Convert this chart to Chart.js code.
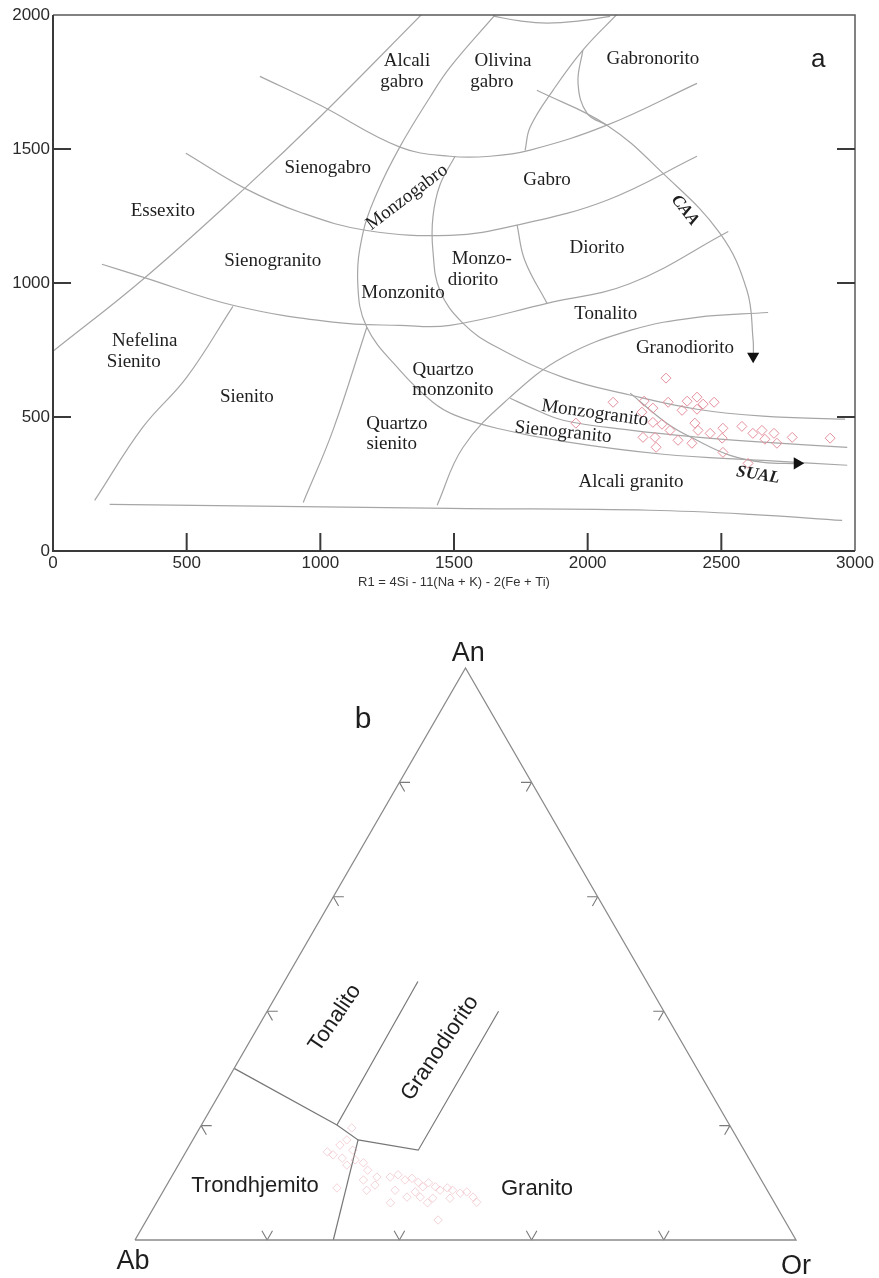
<!DOCTYPE html>
<html><head><meta charset="utf-8">
<script src="https://cdn.jsdelivr.net/npm/chart.js@4.4.1/dist/chart.umd.min.js"></script>
<style>html,body{margin:0;padding:0;background:#fff;width:879px;height:1278px;overflow:hidden}canvas{display:block;position:absolute;left:0}</style>
</head><body>
<canvas id="ca" width="879" height="600" style="top:0;width:879px;height:600px"></canvas>
<canvas id="cb" width="879" height="678" style="top:600px;width:879px;height:678px"></canvas>
<script>
// ---------- Panel a : R1-R2 data ----------
const xTickValues = [0, 500, 1000, 1500, 2000, 2500, 3000];
const yTickValues = [0, 500, 1000, 1500, 2000];
const xAxisTitle = 'R1 = 4Si - 11(Na + K) - 2(Fe + Ti)';

const sampleR1 = [2293,2095,2211,2244,2301,2372,2409,2432,2473,2353,2409,2203,2244,2278,2308,2207,2252,2256,2338,2390,2401,2413,2458,2506,2503,2506,2577,2618,2652,2663,2697,2708,2765,2907,1956,2600];
const sampleR2 = [645,555,559,533,555,559,574,548,555,525,529,518,480,473,450,424,424,387,413,402,477,450,439,458,421,368,465,439,450,417,439,402,424,421,477,327];

// field boundaries [R1, R2]
const bndDiagonal = [[0,745],[337,1014],[718,1354],[1006,1627],[1382,2005]];
const bndArcA = [[774,1771],[998,1664],[1298,1507],[1485,1473],[1635,1473],[1785,1496],[2072,1589],[2409,1745]];
const bndArcB = [[497,1484],[718,1353],[924,1264],[1174,1196],[1485,1178],[1736,1216],[2072,1309],[2409,1473]];
const bndArcC = [[183,1070],[336,1022],[673,917],[1047,854],[1297,842],[1485,842],[1848,924],[2159,998],[2526,1192]];
const bndGranodiorite = [[1437,171],[1534,387],[1710,574],[1908,723],[2159,823],[2409,872],[2675,890]];
const bndBase = [[212,174],[1485,159],[2233,152],[2607,137],[2952,114]];
const bndMonzonite = [[1653,2000],[1485,1805],[1410,1693],[1297,1507],[1211,1334],[1159,1185],[1140,999],[1174,835],[1297,675],[1421,555],[1503,507],[1660,458],[1908,409],[2282,361],[2657,338],[2971,320]];
const bndMonzodiorite = [[1504,1473],[1447,1365],[1421,1245],[1421,1122],[1447,973],[1533,850],[1661,760],[1908,648],[2158,582],[2409,529],[2656,503],[2963,492]];
const bndMonzogranite = [[1710,570],[1785,536],[1908,488],[2159,451],[2409,425],[2657,406],[2971,387]];
const bndDiorite = [[1736,1216],[1765,1084],[1848,924]];
const bndOlivineGabbro = [[2112,2005],[1982,1869],[1871,1720],[1785,1582],[1766,1495]];
const bndGabbronorite = [[1982,1869],[1964,1745],[1998,1633],[2072,1589]];
const bndTopArc = [[1646,1996],[1747,1978],[1848,1970],[1970,1978],[2084,1995]];
const bndNephSyenite = [[156,189],[336,462],[500,648],[673,913]];
const bndQtzSyenite = [[936,181],[1047,450],[1174,835]];
const trendCAA = [[1810,1719],[2072,1589],[2282,1409],[2495,1185],[2596,972],[2619,786],[2620,735]];
const trendSUAL = [[2159,589],[2297,476],[2409,413],[2533,357],[2657,331],[2780,326]];
const arrowHeads = [{x:2619,y:727,rot:180},{x:2784,y:327,rot:90}];

const boundaries = [bndDiagonal,bndArcA,bndArcB,bndArcC,bndGranodiorite,bndBase,bndMonzonite,bndMonzodiorite,bndMonzogranite,bndDiorite,bndOlivineGabbro,bndGabbronorite,bndTopArc,bndNephSyenite,bndQtzSyenite,trendCAA,trendSUAL];

const SERIF = '19px "Liberation Serif", "DejaVu Serif", serif';
const SERIF_BI = 'italic bold 17px "Liberation Serif", serif';
const labelsA = [
  {t:'Alcali',x:1324,y:1827},{t:'gabro',x:1305,y:1749},
  {t:'Olivina',x:1683,y:1827},{t:'gabro',x:1642,y:1749},
  {t:'Gabronorito',x:2244,y:1835},
  {t:'Sienogabro',x:1028,y:1429},
  {t:'Monzogabro',x:1324,y:1320,rot:-37},
  {t:'Gabro',x:1848,y:1383},
  {t:'CAA',x:2364,y:1271,rot:52,font:SERIF_BI},
  {t:'Essexito',x:411,y:1268},
  {t:'Sienogranito',x:822,y:1081},
  {t:'Diorito',x:2035,y:1129},
  {t:'Monzo-',x:1604,y:1088},{t:'diorito',x:1571,y:1010},
  {t:'Monzonito',x:1309,y:961},
  {t:'Tonalito',x:2068,y:883},
  {t:'Nefelina',x:343,y:783},{t:'Sienito',x:302,y:705},
  {t:'Granodiorito',x:2364,y:757},
  {t:'Quartzo',x:1459,y:675},{t:'monzonito',x:1496,y:600},
  {t:'Sienito',x:725,y:573},
  {t:'Quartzo',x:1286,y:473},{t:'sienito',x:1267,y:398},
  {t:'Monzogranito',x:2027,y:514,rot:8},
  {t:'Sienogranito',x:1908,y:443,rot:6},
  {t:'SUAL',x:2637,y:283,rot:9,font:SERIF_BI},
  {t:'Alcali granito',x:2162,y:256},
  {t:'a',x:2862,y:1831,font:'26px "Liberation Sans", Arial, sans-serif'}
];

// ---------- Panel b : An-Ab-Or data (percent) ----------
const sampleAn = [19.6,17.5,15.4,14.9,14.3,13.1,15.7,13.5,12.2,10.5,8.7,9.6,11.0,11.0,11.4,10.5,10.8,10.1,9.3,10.0,9.3,8.7,9.1,8.7,8.2,8.4,7.5,6.6,6.5,7.5,7.5,6.5,7.3,3.5,9.1,14.0,8.7,8.4,7.3,16.6];
const sampleOr = [23.0,23.3,21.4,22.5,24.2,25.5,25.1,27.8,29.1,29.3,30.7,31.5,31.1,33.1,34.1,35.6,36.5,37.8,38.9,39.4,40.8,41.8,42.7,43.7,45.1,46.0,47.4,48.4,35.4,37.4,39.4,41.0,41.4,44.1,26.0,26.3,35.0,38.2,44.0,22.7];
const sampleAb = sampleAn.map((a,i)=>+(100-a-sampleOr[i]).toFixed(1));

// field boundaries [An, Or] in percent
const fieldTrondhjemite = [[30,0],[20.1,20.5],[17.5,25],[15.7,35],[40,35]];
const fieldTonaliteGd = [[20.1,20.5],[45.2,20.2]];
const fieldGranite = [[17.5,25],[0,30]];
const sideTicks = [20,40,60,80];
const SANS = '"Liberation Sans", Arial, sans-serif';
const labelsB = [
  {t:'b',x:0.345,y:0.787,font:'30px '+SANS},
  {t:'An',x:0.504,y:0.888,font:'27px '+SANS},
  {t:'Ab',x:-0.003,y:-0.032,font:'27px '+SANS},
  {t:'Or',x:1.0,y:-0.040,font:'27px '+SANS},
  {t:'Tonalito',x:0.3026,y:0.3359,rot:-56,font:'22px '+SANS},
  {t:'Granodiorito',x:0.4614,y:0.2905,rot:-56,font:'22px '+SANS},
  {t:'Trondhjemito',x:0.1815,y:0.0817,font:'22px '+SANS},
  {t:'Granito',x:0.6082,y:0.0772,font:'22px '+SANS}
];

// ---------- helpers ----------
const H = Math.sqrt(3)/2;
function tern(an, or){ return {x:(or + an/2)/100, y: an/100*H}; }
function drawLabels(chart, labels, defFont){
  const {ctx} = chart; const sx = chart.scales.x, sy = chart.scales.y;
  labels.forEach(l=>{
    ctx.save();
    ctx.translate(sx.getPixelForValue(l.x), sy.getPixelForValue(l.y));
    ctx.rotate((l.rot||0)*Math.PI/180);
    ctx.font = l.font || defFont; ctx.fillStyle = '#1e1e1e';
    ctx.textAlign='center'; ctx.textBaseline='middle';
    ctx.fillText(l.t,0,0);
    ctx.restore();
  });
}

// ---------- Chart a ----------
const dsA = [];
dsA.push({data: sampleR1.map((v,i)=>({x:v,y:sampleR2[i]})), pointStyle:'rectRot', pointRadius:5,
  borderColor:'#e48f9c', backgroundColor:'rgba(0,0,0,0)', pointBorderWidth:1, showLine:false});
dsA.push({data: arrowHeads.map(a=>({x:a.x,y:a.y})), pointStyle:'triangle', pointRadius:7,
  pointRotation: arrowHeads.map(a=>a.rot), backgroundColor:'#111', borderColor:'#111', pointBorderWidth:0, showLine:false, clip:false});
boundaries.forEach(b=>dsA.push({data:b.map(p=>({x:p[0],y:p[1]})), showLine:true, pointRadius:0,
  borderColor:'#a6a6a6', borderWidth:1.2, tension:0.4, fill:false}));

const frameA = {
  id:'frameA',
  afterDraw(chart){
    const {ctx, chartArea:{left,right,top,bottom}} = chart;
    const sx = chart.scales.x, sy = chart.scales.y;
    ctx.save();
    ctx.strokeStyle='#5a5a5a'; ctx.lineWidth=1.5;
    ctx.beginPath(); ctx.moveTo(left,top); ctx.lineTo(right,top); ctx.lineTo(right,bottom); ctx.stroke();
    ctx.strokeStyle='#3a3a3a'; ctx.lineWidth=2;
    ctx.beginPath(); ctx.moveTo(left,top); ctx.lineTo(left,bottom); ctx.lineTo(right,bottom); ctx.stroke();
    ctx.lineWidth=2;
    xTickValues.slice(1,-1).forEach(v=>{const p=sx.getPixelForValue(v); ctx.beginPath(); ctx.moveTo(p,bottom); ctx.lineTo(p,bottom-18); ctx.stroke();});
    yTickValues.slice(1,-1).forEach(v=>{const p=sy.getPixelForValue(v); ctx.beginPath(); ctx.moveTo(left,p); ctx.lineTo(left+18,p); ctx.moveTo(right,p); ctx.lineTo(right-18,p); ctx.stroke();});
    ctx.font='13px "Liberation Sans", Arial, sans-serif'; ctx.fillStyle='#333'; ctx.textAlign='center'; ctx.textBaseline='middle';
    ctx.fillText(xAxisTitle,(left+right)/2,bottom+31);
    ctx.restore();
    drawLabels(chart, labelsA, SERIF);
  }
};

const tickFont = {family:'"Liberation Sans", Arial, sans-serif',size:17};
new Chart(document.getElementById('ca'), {
  type:'scatter',
  data:{datasets:dsA},
  options:{
    responsive:false, animation:false, events:[], devicePixelRatio:1,
    layout:{padding:{left:0,right:24,top:15,bottom:0}},
    plugins:{legend:{display:false},tooltip:{enabled:false}},
    scales:{
      x:{type:'linear',min:0,max:3000,afterBuildTicks(s){s.ticks=xTickValues.map(v=>({value:v}));},
        ticks:{font:tickFont,color:'#2b2b2b',padding:2,maxRotation:0,autoSkip:false,callback:v=>String(v)},
        grid:{display:false,drawTicks:false},border:{display:false},afterFit(s){s.height=49;}},
      y:{type:'linear',min:0,max:2000,afterBuildTicks(s){s.ticks=yTickValues.map(v=>({value:v}));},
        ticks:{font:tickFont,color:'#2b2b2b',padding:3,autoSkip:false,callback:v=>String(v)},
        grid:{display:false,drawTicks:false},border:{display:false},afterFit(s){s.width=53;}}
    }
  },
  plugins:[frameA]
});

// ---------- Chart b ----------
const dsB = [];
dsB.push({data: sampleAn.map((a,i)=>tern(a, sampleOr[i])), pointStyle:'rectRot', pointRadius:4.2,
  borderColor:'rgba(228,150,162,0.42)', backgroundColor:'rgba(0,0,0,0)', pointBorderWidth:1, showLine:false});
dsB.push({data:[tern(0,0),tern(0,100),tern(100,0),tern(0,0)], showLine:true, pointRadius:0, borderColor:'#8a8a8a', borderWidth:1.3, tension:0, clip:false});
[fieldTrondhjemite, fieldTonaliteGd, fieldGranite].forEach(f=>dsB.push({data:f.map(p=>tern(p[0],p[1])), showLine:true, pointRadius:0, borderColor:'#777', borderWidth:1.2, tension:0, clip:false}));
const L = 0.016;
const tickPts = [];
function seg(p, dx, dy){ tickPts.push({x:p.x,y:p.y},{x:p.x+dx*L,y:p.y+dy*L},{x:NaN,y:NaN}); }
sideTicks.forEach(t=>{
  const f=t/100;
  const pb={x:f,y:0}; seg(pb,-0.5,H); seg(pb,0.5,H);
  const pl={x:0.5*f,y:H*f}; seg(pl,1,0); seg(pl,0.5,-H);
  const pr={x:1-0.5*f,y:H*f}; seg(pr,-1,0); seg(pr,-0.5,-H);
});
dsB.push({data:tickPts, showLine:true, pointRadius:0, borderColor:'#7a7a7a', borderWidth:1.1, tension:0, spanGaps:false, clip:false});

new Chart(document.getElementById('cb'), {
  type:'scatter',
  data:{datasets:dsB},
  options:{
    responsive:false, animation:false, events:[], devicePixelRatio:1,
    layout:{padding:{left:135,right:83,top:68,bottom:38}},
    plugins:{legend:{display:false},tooltip:{enabled:false}},
    scales:{
      x:{type:'linear',min:0,max:1,display:false},
      y:{type:'linear',min:0,max:H,display:false}
    }
  },
  plugins:[{id:'labelsB',afterDraw(chart){drawLabels(chart, labelsB, '22px '+SANS);}}]
});
</script>
</body></html>
